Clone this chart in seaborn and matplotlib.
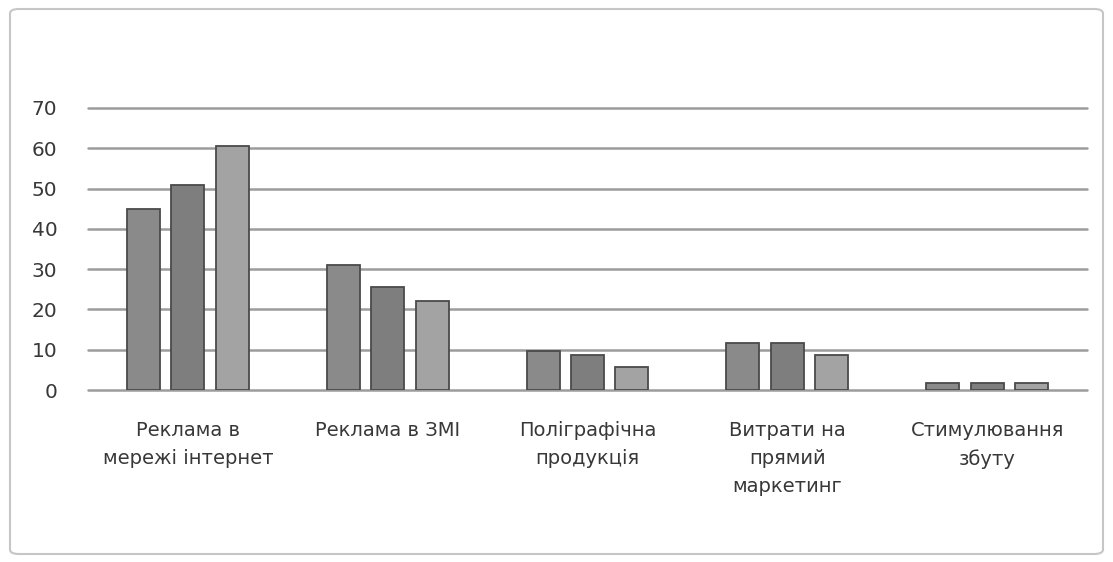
import matplotlib
matplotlib.use("Agg")
import matplotlib.pyplot as plt
import seaborn as sns
import pandas as pd
from matplotlib.patches import FancyBboxPatch

# ---- data ----
categories = [
    "Реклама в\nмережі інтернет",
    "Реклама в ЗМІ",
    "Поліграфічна\nпродукція",
    "Витрати на\nпрямий\nмаркетинг",
    "Стимулювання\nзбуту",
]
series_names = ["Ряд 1", "Ряд 2", "Ряд 3"]
series1 = [45, 31, 9.7, 11.7, 1.7]
series2 = [51, 25.5, 8.7, 11.7, 1.7]
series3 = [60.6, 22, 5.8, 8.6, 1.7]
yticks = [0, 10, 20, 30, 40, 50, 60, 70]

rows = []
for name, vals in zip(series_names, [series1, series2, series3]):
    for c, v in zip(categories, vals):
        rows.append({"category": c, "series": name, "value": v})
df = pd.DataFrame(rows)

sns.set_theme(style="white")
plt.rcParams["font.family"] = ["DejaVu Sans"]

W, H = 1113, 562
fig = plt.figure(figsize=(W / 100, H / 100), dpi=100)
fig.patch.set_facecolor("white")
ax = fig.add_axes([88 / W, 1 - 390 / H, (1087 - 88) / W, (390 - 108) / H])

palette = ["#8a8a8a", "#7e7e7e", "#a3a3a3"]
sns.barplot(
    data=df, x="category", y="value", hue="series",
    order=categories, hue_order=series_names,
    palette=palette, width=0.6675, gap=0.258,
    edgecolor="#4a4a4a", linewidth=1.3, legend=False, ax=ax, zorder=3,
)

ax.set_xlim(-0.5, len(categories) - 0.5)
ax.set_ylim(0, 70)
ax.set_yticks(yticks)
ax.set_yticklabels([str(t) for t in yticks])
ax.yaxis.grid(True, color="#9c9c9c", linewidth=1.8, zorder=0)
ax.xaxis.grid(False)
ax.set_axisbelow(True)
for gl in ax.get_ygridlines():
    gl.set_clip_on(False)
for s in ax.spines.values():
    s.set_visible(False)
ax.set_xlabel("")
ax.set_ylabel("")
ax.tick_params(axis="y", length=0, pad=22, labelsize=14.5, labelcolor="#383838")
ax.tick_params(axis="x", length=0, pad=22, labelsize=14, labelcolor="#383838")
for lbl in ax.get_xticklabels():
    lbl.set_linespacing(1.6)
    lbl.set_verticalalignment("top")
    lbl.set_horizontalalignment("center")

border = FancyBboxPatch(
    (10 / W, 8 / H), (1103 - 10) / W, (553 - 8) / H,
    boxstyle="round,pad=0,rounding_size=0.008",
    transform=fig.transFigure, fill=False, edgecolor="#c6c6c6", linewidth=1.5,
)
fig.patches.append(border)

fig.savefig("out.png", dpi=100, facecolor="white")
